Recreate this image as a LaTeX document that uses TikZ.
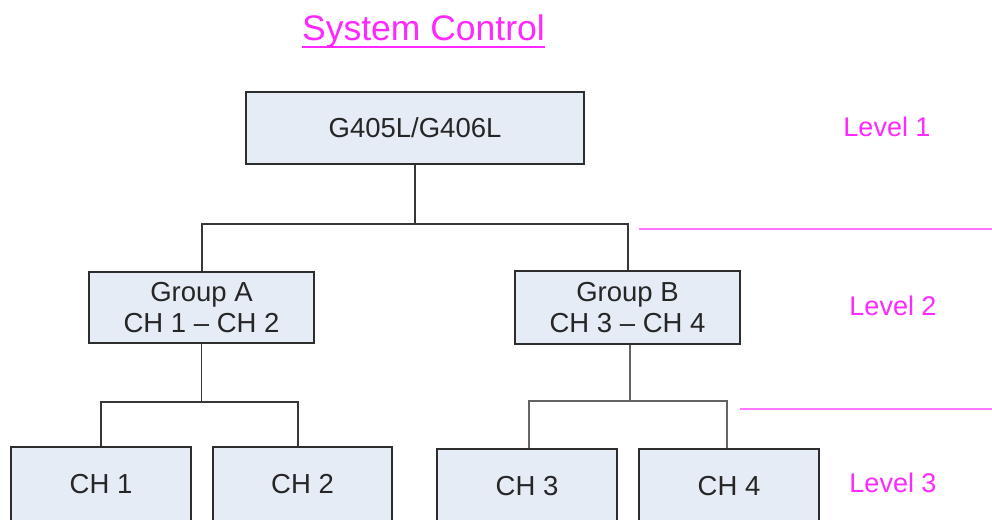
\documentclass[tikz,border=0pt]{standalone}
\usepackage{fontspec}
\setmainfont{Liberation Sans}
\begin{document}
\definecolor{boxfill}{RGB}{230,236,246}
\definecolor{boxline}{RGB}{45,45,45}
\definecolor{connA}{RGB}{55,55,55}
\definecolor{connB}{RGB}{100,100,100}
\definecolor{pinktext}{RGB}{255,40,255}
\definecolor{pinkline}{RGB}{255,120,255}
\begin{tikzpicture}[x=1pt,y=-1pt,
  box/.style={draw=boxline, line width=2pt, fill=boxfill, inner sep=0pt, align=center,
              font=\fontsize{27.5}{31.5}\selectfont, text=black!85},
  conn/.style={draw=connA, line width=1.8pt},
  connb/.style={draw=connB, line width=2.2pt},
  lvl/.style={text=pinktext, font=\fontsize{27}{31}\selectfont, inner sep=0pt},
  sep/.style={draw=pinkline, line width=2.6pt}]
\useasboundingbox (0,0) rectangle (992,519);
\clip (0,0) rectangle (992,519);
% title
\node[text=pinktext, font=\fontsize{35.5}{40}\selectfont, inner sep=0pt, anchor=base] (title) at (423.5,41) {System Control};
\draw[pinktext, line width=1.6pt] ([yshift=-6pt]title.base west) -- ([yshift=-6pt]title.base east);
% boxes
\node[box, minimum width=338pt, minimum height=72pt] (top) at (415,128) {G405L/G406L};
\node[box, minimum width=225pt, minimum height=71pt] (ga) at (201.5,307.5) {Group A\\CH 1 -- CH 2};
\node[box, minimum width=225pt, minimum height=73pt] (gb) at (627.5,307.5) {Group B\\CH 3 -- CH 4};
\node[box, minimum width=180pt, minimum height=74pt] (ch1) at (101,484) {CH 1};
\node[box, minimum width=179pt, minimum height=74pt] (ch2) at (302.5,484) {CH 2};
\node[box, minimum width=180pt, minimum height=74pt] (ch3) at (527,486) {CH 3};
\node[box, minimum width=180pt, minimum height=74pt] (ch4) at (729,486) {CH 4};
% connectors level 1 -> 2
\coordinate (j1) at (415,224);
\draw[conn] (top.south) -- (j1);
\draw[conn] ([xshift=0.5pt]ga.north) |- (j1) -| ([xshift=0.5pt]gb.north);
% group A -> CH1, CH2
\coordinate (ja) at (201.5,402);
\draw[conn] (ga.south) -- (ja);
\draw[conn] ([xshift=0pt]ch1.north) |- (ja) -| ([xshift=-4.5pt]ch2.north);
% group B -> CH3, CH4
\coordinate (jb) at (630,401);
\draw[connb] ([xshift=2.5pt]gb.south) -- (jb);
\draw[connb] ([xshift=2pt]ch3.north) |- (jb) -| ([xshift=-2pt]ch4.north);
% level separators
\coordinate (s1a) at (639,229);
\coordinate (s1b) at (992,229);
\coordinate (s2a) at (740,409);
\coordinate (s2b) at (992,409);
\draw[sep] (s1a) -- (s1b);
\draw[sep] (s2a) -- (s2b);
% level labels
\node[lvl] (l1) at (887,127) {Level 1};
\node[lvl] (l2) at (893,306) {Level 2};
\node[lvl] (l3) at (893,483) {Level 3};
\end{tikzpicture}
\end{document}
